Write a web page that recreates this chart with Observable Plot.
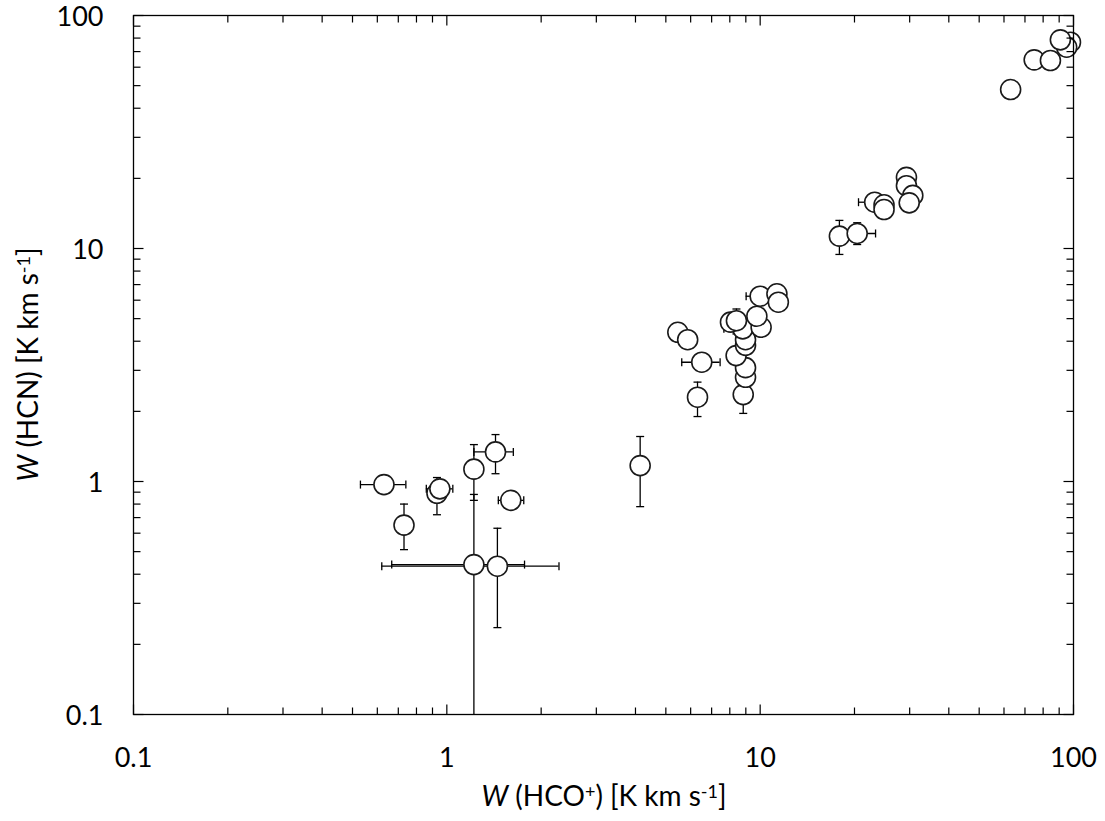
<!DOCTYPE html>
<html>
<head>
<meta charset="utf-8">
<script src="https://cdn.jsdelivr.net/npm/d3@7"></script>
<script src="https://cdn.jsdelivr.net/npm/@observablehq/plot@0.6"></script>
<style>
  html, body { margin: 0; padding: 0; background: #fff; }
  #chart { width: 1105px; height: 821px; }
</style>
</head>
<body>
<div id="chart"></div>
<script>
// W(HCO+) [K km s-1]
const hco   = [0.63, 0.73, 0.93, 0.95, 1.22, 1.43, 1.60, 1.22, 1.45,
               4.14, 6.31, 6.51, 5.46, 5.87, 8.83, 8.98, 8.98, 8.38, 8.98, 8.98, 8.80, 8.04, 8.40, 10.07, 9.76, 10.0, 11.31, 11.43,
               17.9, 20.4, 23.2, 24.85, 24.85, 29.3, 29.3, 30.7, 29.9,
               63.0, 74.9, 84.4, 97.8, 95.1, 90.8];
// W(HCN) [K km s-1]
const hcn   = [0.97, 0.65, 0.89, 0.93, 1.13, 1.34, 0.83, 0.44, 0.433,
               1.17, 2.30, 3.25, 4.37, 4.06, 2.36, 2.80, 3.08, 3.47, 3.84, 4.06, 4.52, 4.83, 4.90, 4.59, 5.12, 6.24, 6.39, 5.88,
               11.3, 11.6, 15.8, 15.4, 14.7, 20.2, 18.6, 16.9, 15.7,
               48.1, 64.5, 64.1, 76.8, 73.1, 78.6];
// horizontal error bar ends (null = none)
const hcoLo = [0.53, null, null, 0.86, null, 1.22, 1.46, 0.667, 0.62,
               null, null, 5.62, null, null, null, null, null, null, null, null, 7.66, null, null, null, null, 9.02, null, null,
               null, 17.4, 20.6, null, null, null, null, null, null,
               null, null, null, null, null, null];
const hcoHi = [0.74, null, null, 1.045, null, 1.63, 1.76, 1.77, 2.28,
               null, null, 7.45, null, null, null, null, null, null, null, null, 9.94, null, null, null, null, 10.98, null, null,
               null, 23.35, 25.8, null, null, null, null, null, null,
               null, null, null, null, null, null];
// vertical error bar ends (null = none)
const hcnLo = [null, 0.51, 0.72, null, 0.83, 1.08, null, 0.001, 0.236,
               0.78, 1.90, null, null, null, 1.96, null, null, null, null, null, null, null, 4.30, null, null, null, null, null,
               9.43, 10.4, null, null, null, null, null, null, null,
               null, null, null, null, null, null];
const hcnHi = [null, 0.80, 1.04, null, 1.44, 1.59, null, 0.88, 0.63,
               1.56, 2.67, null, null, null, 2.76, null, null, null, null, null, null, null, 5.50, null, null, null, null, null,
               13.2, 12.9, null, null, null, null, null, null, null,
               null, null, null, null, null, null];

const tickValues = [0.1, 1, 10, 100];
const tickLabels = ["0.1", "1", "10", "100"];
const minorTicks = [0.2,0.3,0.4,0.5,0.6,0.7,0.8,0.9, 2,3,4,5,6,7,8,9, 20,30,40,50,60,70,80,90];

const data = hco.map((x, i) => ({x, y: hcn[i], xlo: hcoLo[i], xhi: hcoHi[i], ylo: hcnLo[i], yhi: hcnHi[i]}));
const xErr = data.filter(d => d.xlo != null);
const yErr = data.filter(d => d.ylo != null);

const fmt = d => tickLabels[tickValues.indexOf(d)];
const seg = (dx, dy) => ({draw(ctx) { ctx.moveTo(0, 0); ctx.lineTo(dx, dy); }});
const bar = (dx, dy) => ({draw(ctx) { ctx.moveTo(-dx, -dy); ctx.lineTo(dx, dy); }});

const FONT = "Lato, 'Open Sans', sans-serif";
const [xMin, xMax] = [tickValues[0], tickValues[tickValues.length - 1]];

const tickMarks = (vals, len) => [
  Plot.dot(vals, {x: d => d, y: xMin, symbol: seg(0, -len), stroke: "black", strokeWidth: 1.2, fill: "none"}),
  Plot.dot(vals, {x: d => d, y: xMax, symbol: seg(0, len), stroke: "black", strokeWidth: 1.2, fill: "none"}),
  Plot.dot(vals, {x: xMin, y: d => d, symbol: seg(len, 0), stroke: "black", strokeWidth: 1.2, fill: "none"}),
  Plot.dot(vals, {x: xMax, y: d => d, symbol: seg(-len, 0), stroke: "black", strokeWidth: 1.2, fill: "none"})
];

const chart = Plot.plot({
  width: 1105,
  height: 821,
  marginLeft: 133,
  marginRight: 32,
  marginTop: 15,
  marginBottom: 107,
  style: {fontFamily: FONT, background: "white", color: "black", overflow: "visible"},
  x: {type: "log", domain: [xMin, xMax]},
  y: {type: "log", domain: [xMin, xMax]},
  marks: [
    Plot.ruleY(xErr, {y: "y", x1: "xlo", x2: "xhi", stroke: "black", strokeWidth: 1.3, clip: true}),
    Plot.ruleX(yErr, {x: "x", y1: "ylo", y2: "yhi", stroke: "black", strokeWidth: 1.3, clip: true}),
    Plot.dot(xErr, {x: "xlo", y: "y", symbol: bar(0, 4), stroke: "black", strokeWidth: 1.3, fill: "none", clip: true}),
    Plot.dot(xErr, {x: "xhi", y: "y", symbol: bar(0, 4), stroke: "black", strokeWidth: 1.3, fill: "none", clip: true}),
    Plot.dot(yErr, {x: "x", y: "ylo", symbol: bar(4, 0), stroke: "black", strokeWidth: 1.3, fill: "none", clip: true}),
    Plot.dot(yErr, {x: "x", y: "yhi", symbol: bar(4, 0), stroke: "black", strokeWidth: 1.3, fill: "none", clip: true}),
    Plot.dot(data, {x: "x", y: "y", r: 10, fill: "white", stroke: "#1a1a1a", strokeWidth: 1.6}),
    ...tickMarks(minorTicks, 7),
    ...tickMarks(tickValues, 10),
    Plot.frame({stroke: "black", strokeWidth: 1.3}),
    Plot.axisX(tickValues, {anchor: "bottom", tickSize: 0, tickPadding: 33, tickFormat: fmt, fontSize: 27, label: null}),
    Plot.axisY(tickValues, {anchor: "left", tickSize: 0, tickPadding: 30, tickFormat: fmt, fontSize: 27, label: null, dy: 2})
  ]
});

document.getElementById("chart").appendChild(chart);

// Axis titles with italic W and superscripts
const svg = d3.select(chart);
function title(g, parts) {
  const t = g.append("text")
    .attr("font-family", FONT)
    .attr("font-size", 28)
    .attr("fill", "black")
    .attr("text-anchor", "middle");
  parts.forEach(([txt, kind]) => {
    const ts = t.append("tspan").text(txt);
    if (kind === "i") ts.attr("font-style", "italic");
    if (kind === "sup") ts.attr("font-size", 18).attr("baseline-shift", "45%");
  });
  return t;
}
const xParts = [["W", "i"], [" (HCO", ""], ["+", "sup"], [") [K km s", ""], ["-1", "sup"], ["]", ""]];
const yParts = [["W", "i"], [" (HCN) [K km s", ""], ["-1", "sup"], ["]", ""]];
title(svg, xParts).attr("x", 604).attr("y", 806);
title(svg, yParts).attr("transform", "translate(38,364.5) rotate(-90)");
</script>
</body>
</html>
